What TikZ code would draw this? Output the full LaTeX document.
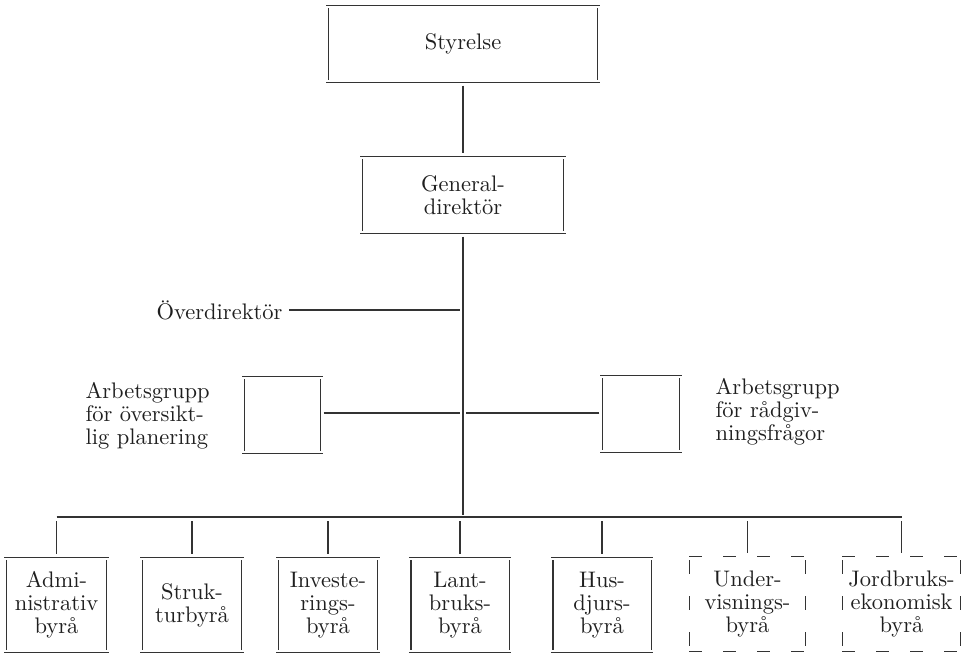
\documentclass[tikz,border=0pt]{standalone}
\usepackage{fontspec}
\setmainfont{lmroman10-regular.otf}
\begin{document}
\begin{tikzpicture}[x=1pt,y=-1pt,line width=1.1pt, color=black!80,
  txt/.style={font=\fontsize{22.5}{23}\selectfont, text=black!88, inner sep=0pt},
  bx/.style={txt, align=center, minimum height=94pt},
  gap/.style={shorten <=3pt, shorten >=3pt}]
\useasboundingbox (0,0) rectangle (970,655);
\newcommand\myogbox[1]{%
  \draw ([xshift=-2pt]#1.north west) -- ([xshift=2pt]#1.north east);
  \draw ([xshift=-2pt]#1.south west) -- ([xshift=2pt]#1.south east);
  \draw ([yshift=-3pt]#1.north west) -- ([yshift=3pt]#1.south west);
  \draw ([yshift=-3pt]#1.north east) -- ([yshift=3pt]#1.south east);}
\newcommand\mydashedbox[1]{%
  \draw[dash pattern=on 13pt off 21pt] (#1.north west) -- (#1.north east);
  \draw[dash pattern=on 13pt off 21pt] (#1.south west) -- (#1.south east);
  \draw[dash pattern=on 14pt off 22pt] ([yshift=-4pt]#1.north west) -- ([yshift=4pt]#1.south west);
  \draw[dash pattern=on 14pt off 22pt] ([yshift=-4pt]#1.north east) -- ([yshift=4pt]#1.south east);}

% top
\node[txt, align=center, minimum width=268pt, minimum height=76pt] (sty) at (463,44) {Styrelse};
\node[txt, align=center, minimum width=200pt, minimum height=76pt] (gd) at (463,195) {General-\\direktör};
% working groups
\node[txt, minimum width=75pt, minimum height=76pt] (agl) at (282.5,415) {};
\node[txt, minimum width=76pt, minimum height=76pt] (agr) at (641,414) {};
\node[txt, anchor=east] (ovd) at (283,310) {Överdirektör};
\node[txt, align=left, anchor=west] (agltxt) at (85,416) {Arbetsgrupp\\för översikt-\\lig planering};
\node[txt, align=left, anchor=west] (agrtxt) at (715,412) {Arbetsgrupp\\för rådgiv-\\ningsfrågor};
% bureaus
\node[bx, minimum width=99pt] (b1) at (56.5,605) {Admi-\\nistrativ\\byrå};
\node[bx, minimum width=98pt] (b2) at (192,605) {Struk-\\turbyrå};
\node[bx, minimum width=98pt] (b3) at (328,605) {Investe-\\rings-\\byrå};
\node[bx, minimum width=97pt] (b4) at (460,605) {Lant-\\bruks-\\byrå};
\node[bx, minimum width=97pt] (b5) at (602,605) {Hus-\\djurs-\\byrå};
\node[bx, minimum width=115pt] (b6) at (747.5,604) {Under-\\visnings-\\byrå};
\node[bx, minimum width=117pt] (b7) at (901.5,604) {Jordbruks-\\ekonomisk\\byrå};

\foreach \n in {sty,gd,agl,agr,b1,b2,b3,b4,b5} {\myogbox{\n}}
\mydashedbox{b6}
\mydashedbox{b7}

% connectors
\coordinate (mOv) at (463,309);
\coordinate (mAg) at (463,413);
\coordinate (busM) at (463,517);
\coordinate (busL) at (b1.north |- busM);
\coordinate (busR) at (b7.north |- busM);

\draw[gap] (sty) -- (gd);
\draw[shorten <=3pt, shorten >=2pt] (gd) -- (busM);
\draw[shorten <=6pt, shorten >=3pt] (ovd.east) -- (ovd.east -| mOv);
\draw[gap] (agl.east |- mAg) -- (mAg);
\draw[gap] (agr.west |- mAg) -- (mAg);
\draw (busL) -- (busR);
\foreach \n in {b1,b2,b3,b4,b5,b6,b7}
  \draw[shorten <=4pt, shorten >=3pt] (\n.north |- busM) -- (\n.north);
\end{tikzpicture}
\end{document}
